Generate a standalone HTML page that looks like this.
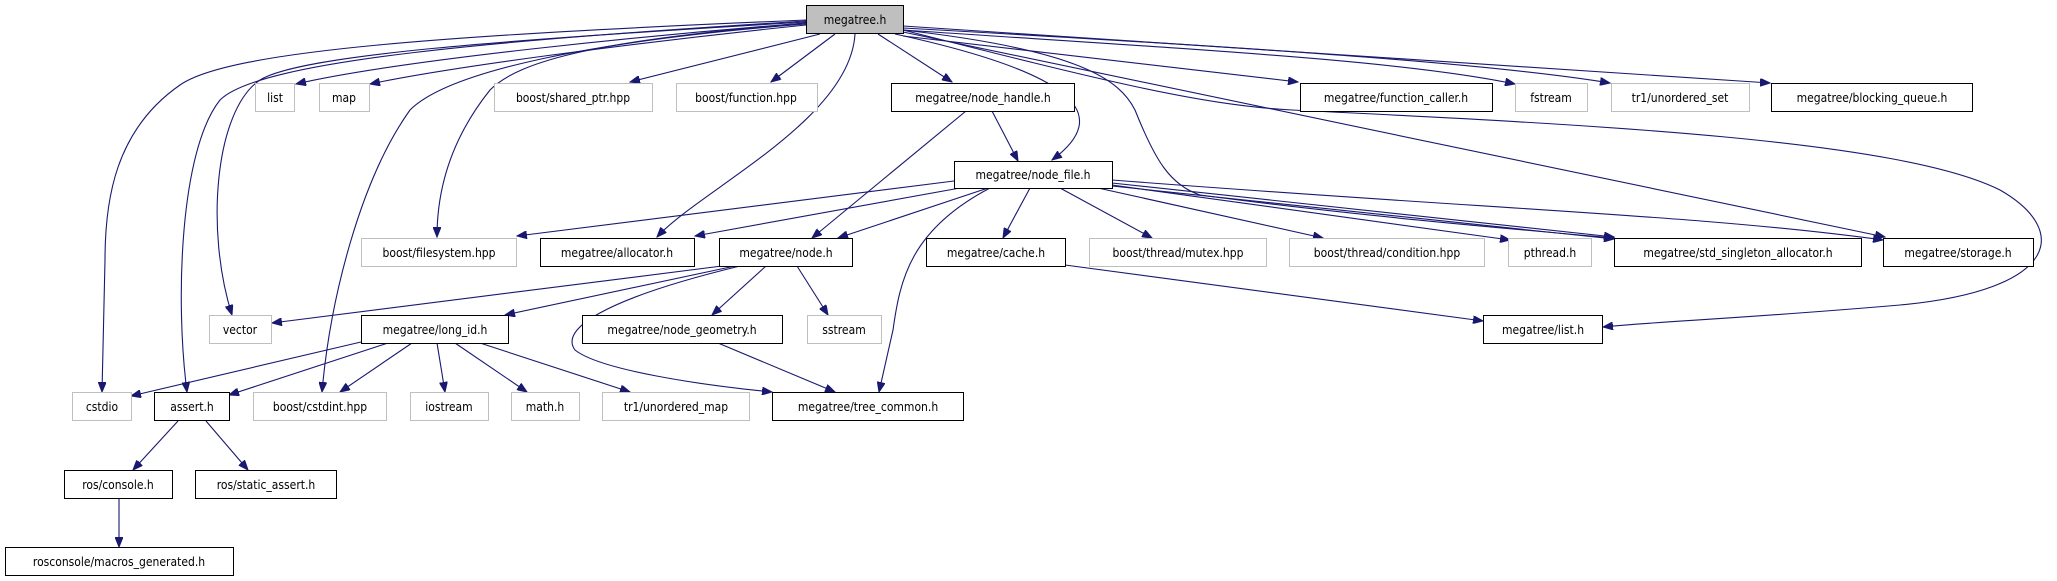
<!DOCTYPE html>
<html><head><meta charset="utf-8"><style>
html,body{margin:0;padding:0;background:#fff;}
svg{display:block;}
text{font-family:"DejaVu Sans Condensed","Liberation Sans Narrow","Liberation Sans",sans-serif;font-size:12px;fill:#000;}
</style></head><body>
<svg width="2057" height="581" viewBox="0 0 2057 581" xmlns="http://www.w3.org/2000/svg">
<defs>
<marker id="a" markerWidth="11" markerHeight="8" refX="10" refY="4" orient="auto" markerUnits="userSpaceOnUse">
<path d="M0,0 L10,4 L0,8 z" fill="#191970" stroke="#191970"/>
</marker>
</defs>
<g fill="none" stroke="#191970" stroke-width="1.1" marker-end="url(#a)">
<!-- megatree.h -->
<path d="M806,23 C650,35 400,60 296,84"/>
<path d="M806,25 C660,40 460,65 370,84"/>
<path d="M820,34 L630,82"/>
<path d="M835,34 L771,82"/>
<path d="M878,34 L952,82"/>
<path d="M903,36 L1298,82"/>
<path d="M903,30 C1200,50 1400,60 1515,84"/>
<path d="M903,28 C1300,50 1500,65 1610,83"/>
<path d="M903,26 L1770,83"/>
<path d="M895,34 C1060,70 1120,110 1052,160"/>
<path d="M903,30 C1080,50 1120,80 1135,110 C1155,160 1170,185 1200,195 C1350,215 1500,228 1614,238"/>
<path d="M903,32 L1885,237"/>
<path d="M903,30 C1100,80 1200,105 1292,110 C1600,125 1900,140 2000,190 C2070,230 2060,290 1900,305 C1750,318 1650,322 1603,327"/>
<path d="M806,23 C600,40 520,60 490,90 C450,140 437,190 437,237"/>
<path d="M855,34 C850,120 700,190 657,237"/>
<path d="M806,22 C500,40 300,55 260,80 C215,110 205,230 232,315"/>
<path d="M806,24 C600,40 450,70 410,110 C360,180 330,300 322,392"/>
<path d="M806,21 C500,40 260,60 220,100 C180,150 175,300 187,392"/>
<path d="M806,20 C450,35 230,50 180,85 C115,130 105,200 105,260 L102,392"/>
<!-- node_handle -->
<path d="M992,111 L1018,161"/>
<path d="M966,111 L812,238"/>
<!-- node_file -->
<path d="M954,181 L517,236"/>
<path d="M960,188 L695,236"/>
<path d="M988,188 L838,238"/>
<path d="M1030,188 L1003,238"/>
<path d="M990,188 C910,230 900,280 893,330 L879,392"/>
<path d="M1060,188 L1152,238"/>
<path d="M1098,188 L1323,238"/>
<path d="M1112,185 L1510,240"/>
<path d="M1112,183 L1614,237"/>
<path d="M1112,186 L1614,239"/>
<path d="M1112,180 C1500,210 1700,215 1883,240"/>
<!-- node.h -->
<path d="M722,266 L272,323"/>
<path d="M735,266 L505,315"/>
<path d="M766,266 L712,315"/>
<path d="M797,266 L828,315"/>
<path d="M740,266 C600,300 560,330 575,350 C600,370 700,385 772,392"/>
<!-- cache -->
<path d="M1065,265 L1483,321"/>
<!-- node_geometry -->
<path d="M718,343 L835,392"/>
<!-- long_id -->
<path d="M361,342 L131,396"/>
<path d="M388,343 L229,395"/>
<path d="M412,343 L340,392"/>
<path d="M437,343 L445,392"/>
<path d="M455,343 L527,392"/>
<path d="M480,343 L630,392"/>
<!-- assert -->
<path d="M178,421 L133,470"/>
<path d="M206,421 L248,470"/>
<path d="M119,498 L119,547"/>
</g>
<g stroke-width="1">
<g fill="#fff" stroke="#bfbfbf">
<rect x="255.5" y="83.5" width="39" height="28"/>
<rect x="319.5" y="83.5" width="50" height="28"/>
<rect x="494.5" y="83.5" width="158" height="28"/>
<rect x="676.5" y="83.5" width="141" height="28"/>
<rect x="1515.5" y="83.5" width="72" height="28"/>
<rect x="1611.5" y="83.5" width="138" height="28"/>
<rect x="361.5" y="238.5" width="155" height="28"/>
<rect x="1089.5" y="238.5" width="177" height="28"/>
<rect x="1289.5" y="238.5" width="195" height="28"/>
<rect x="1508.5" y="238.5" width="83" height="28"/>
<rect x="209.5" y="315.5" width="62" height="28"/>
<rect x="807.5" y="315.5" width="74" height="28"/>
<rect x="72.5" y="392.5" width="59" height="28"/>
<rect x="253.5" y="392.5" width="133" height="28"/>
<rect x="410.5" y="392.5" width="78" height="28"/>
<rect x="511.5" y="392.5" width="68" height="28"/>
<rect x="602.5" y="392.5" width="147" height="28"/>
</g>
<g fill="#fff" stroke="#000">
<rect x="891.5" y="83.5" width="183" height="28"/>
<rect x="1300.5" y="83.5" width="192" height="28"/>
<rect x="1771.5" y="83.5" width="201" height="28"/>
<rect x="954.5" y="161.5" width="158" height="27"/>
<rect x="540.5" y="238.5" width="154" height="28"/>
<rect x="719.5" y="238.5" width="133" height="28"/>
<rect x="926.5" y="238.5" width="139" height="28"/>
<rect x="1614.5" y="238.5" width="247" height="28"/>
<rect x="1883.5" y="238.5" width="150" height="28"/>
<rect x="361.5" y="315.5" width="147" height="28"/>
<rect x="582.5" y="315.5" width="200" height="28"/>
<rect x="1483.5" y="315.5" width="119" height="28"/>
<rect x="154.5" y="392.5" width="75" height="28"/>
<rect x="772.5" y="392.5" width="191" height="28"/>
<rect x="64.5" y="470.5" width="108" height="28"/>
<rect x="195.5" y="470.5" width="141" height="28"/>
<rect x="5.5" y="547.5" width="228" height="28"/>
</g>
<rect x="806.5" y="5.5" width="97" height="28" fill="#bfbfbf" stroke="#000"/>
</g>
<g text-anchor="middle">
<text x="855" y="24">megatree.h</text>
<text x="275" y="102">list</text>
<text x="344" y="102">map</text>
<text x="573" y="102">boost/shared_ptr.hpp</text>
<text x="746" y="102">boost/function.hpp</text>
<text x="983" y="102">megatree/node_handle.h</text>
<text x="1396" y="102">megatree/function_caller.h</text>
<text x="1551" y="102">fstream</text>
<text x="1680" y="102">tr1/unordered_set</text>
<text x="1872" y="102">megatree/blocking_queue.h</text>
<text x="1033" y="179">megatree/node_file.h</text>
<text x="439" y="257">boost/filesystem.hpp</text>
<text x="617" y="257">megatree/allocator.h</text>
<text x="786" y="257">megatree/node.h</text>
<text x="996" y="257">megatree/cache.h</text>
<text x="1178" y="257">boost/thread/mutex.hpp</text>
<text x="1387" y="257">boost/thread/condition.hpp</text>
<text x="1550" y="257">pthread.h</text>
<text x="1738" y="257">megatree/std_singleton_allocator.h</text>
<text x="1958" y="257">megatree/storage.h</text>
<text x="240" y="334">vector</text>
<text x="435" y="334">megatree/long_id.h</text>
<text x="682" y="334">megatree/node_geometry.h</text>
<text x="844" y="334">sstream</text>
<text x="1543" y="334">megatree/list.h</text>
<text x="102" y="411">cstdio</text>
<text x="192" y="411">assert.h</text>
<text x="320" y="411">boost/cstdint.hpp</text>
<text x="449" y="411">iostream</text>
<text x="545" y="411">math.h</text>
<text x="676" y="411">tr1/unordered_map</text>
<text x="868" y="411">megatree/tree_common.h</text>
<text x="118" y="489">ros/console.h</text>
<text x="266" y="489">ros/static_assert.h</text>
<text x="119" y="566">rosconsole/macros_generated.h</text>
</g>
</svg>
</body></html>
